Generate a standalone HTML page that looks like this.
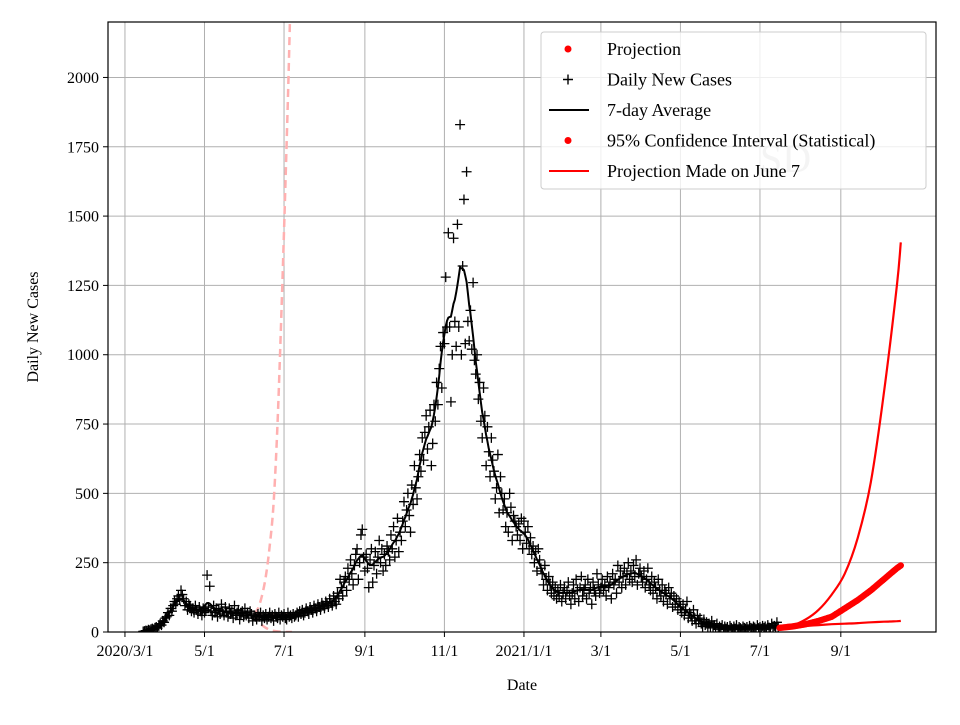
<!DOCTYPE html>
<html><head><meta charset="utf-8"><style>
html,body{margin:0;padding:0;background:#fff;}
svg text{font-family:"Liberation Serif",serif;}
</style></head><body>
<svg id="chart" width="960" height="720" xmlns="http://www.w3.org/2000/svg"></svg>
<script>
// ---- data ----
const dailyStartDay = 14; // days since 2020/3/1
const dailyCases = [
2,3,5,4,8,6,10,12,9,15,18,14,22,30,25,40,35,50,
55,70,60,85,75,95,110,100,120,130,115,150,135,120,
95,110,80,100,90,75,85,70,95,80,65,90,75,60,85,
70,80,205,90,165,75,60,95,70,85,55,80,65,100,75,
60,90,70,55,85,65,75,50,95,60,70,80,45,65,75,55,85,60,70,50,75,65,40,60,55,
45,65,55,70,40,60,50,65,45,55,70,50,60,40,65,55,50,70,45,60,55,65,50,45,70,55,60,50,65,55,
60,70,55,75,65,80,60,70,85,75,65,90,80,70,95,85,75,100,90,80,105,95,85,110,100,90,120,105,95,130,
110,100,140,120,190,160,130,180,200,150,230,190,260,210,170,240,280,300,190,250,350,370,270,220,
280,230,160,260,300,180,240,290,210,270,330,250,300,220,280,240,310,290,260,350,300,380,270,330,410,290,360,330,400,470,
380,440,500,420,360,530,460,600,520,480,560,640,580,700,620,720,780,660,740,800,600,680,820,760,900,820,950,1030,880,1080,
1040,1280,1100,1440,1100,830,1000,1420,1120,1030,1470,1100,1830,1000,1320,1560,1040,1660,1120,1050,1160,1020,1260,980,930,1000,
840,900,760,700,880,780,600,740,650,560,700,620,580,480,520,640,430,560,500,440,480,380,430,360,500,450,330,420,400,380,350,390,330,410,300,
400,360,320,380,300,340,280,310,250,290,220,300,260,230,210,170,240,190,150,200,170,140,180,130,160,120,150,130,170,110,140,
160,120,150,180,130,100,140,170,120,190,150,110,160,200,130,150,170,120,190,140,160,100,180,150,130,210,170,140,160,
190,150,170,130,200,160,180,120,210,170,190,140,240,180,220,160,200,230,170,210,250,190,220,180,240,200,260,170,210,230,
200,180,220,160,190,230,170,150,200,140,180,160,120,190,150,130,170,110,150,140,100,160,120,140,90,130,100,120,80,110,
90,70,100,60,80,110,50,70,60,40,80,50,30,60,40,50,30,20,45,25,35,20,30,15,40,20,25,15,30,10,20,
15,25,10,20,12,18,8,22,15,10,20,12,25,8,18,14,10,20,15,12,18,10,22,15,12,20,16,10,25,14,
18,12,22,15,20,10,25,16,14,30,18,22,15,35,20];
const projDays  = [502,512,522,532,542,552,562,572,582,592,595];
const projMid   = [15,20,28,40,55,85,115,150,190,230,240];
const projUpper = [15,24,45,80,135,210,340,540,860,1250,1405];
const projLower = [15,18,22,25,28,30,32,35,37,39,40];
const oldDays   = [99,102,105,108,111,114,117,120,123,126,128];
const oldUpper  = [65,85,130,200,310,465,750,1150,1600,2100,2500];
const oldMid    = [65,65,65,65,65,65,65,65,65,65,65];
const oldLower  = [65,40,25,15,8,4,2,1,0,0,0];
const yTicks = [0,250,500,750,1000,1250,1500,1750,2000];
const xTickDays = [0,61,122,184,245,306,365,426,487,549];
const xTickLabels = ["2020/3/1","5/1","7/1","9/1","11/1","2021/1/1","3/1","5/1","7/1","9/1"];

// ---- axes ----
const L=108,R=936,T=22,B=632;
const xMin=-13,xMax=622,yMax=2200;
const X=d=>L+(d-xMin)/(xMax-xMin)*(R-L);
const Y=v=>B-v/yMax*(B-T);
const svg=document.getElementById('chart');
const NS='http://www.w3.org/2000/svg';
function mk(tag,attrs,parent){const e=document.createElementNS(NS,tag);for(const k in attrs)e.setAttribute(k,attrs[k]);(parent||svg).appendChild(e);return e;}

const clip=mk('clipPath',{id:'pc'});mk('rect',{x:L,y:T,width:R-L,height:B-T},clip);

// grid
const grid=mk('g',{});


yTicks.forEach(v=>{mk('line',{x1:L,x2:R,y1:Y(v),y2:Y(v),stroke:'#b0b0b0','stroke-width':1},grid);});
xTickDays.forEach(d=>{mk('line',{x1:X(d),x2:X(d),y1:T,y2:B,stroke:'#b0b0b0','stroke-width':1},grid);});

// watermark
const wm=mk('text',{x:760,y:172,'font-size':40,fill:'#c8c8c8'});wm.textContent='SD';



const plot=mk('g',{'clip-path':'url(#pc)'});



// smooth path through points (Catmull-Rom)
function linePath(xs,ys){
  const p=xs.map((d,i)=>[X(d),Y(ys[i])]);
  let s='M'+p[0][0].toFixed(1)+','+p[0][1].toFixed(1);
  for(let i=0;i<p.length-1;i++){
    const p0=p[i-1]||p[i],p1=p[i],p2=p[i+1],p3=p[i+2]||p[i+1];
    const c1=[p1[0]+(p2[0]-p0[0])/6,p1[1]+(p2[1]-p0[1])/6];
    const c2=[p2[0]-(p3[0]-p1[0])/6,p2[1]-(p3[1]-p1[1])/6];
    s+=`C${c1[0].toFixed(1)},${c1[1].toFixed(1)} ${c2[0].toFixed(1)},${c2[1].toFixed(1)} ${p2[0].toFixed(1)},${p2[1].toFixed(1)}`;
  }
  return s;
}
[[oldUpper,'old-projection-upper'],[oldMid,'old-projection-mid'],[oldLower,'old-projection-lower']].forEach(([arr,n])=>{
  let d=linePath(oldDays,arr);
  if(n==='old-projection-mid') d='M'+X(99)+','+Y(65)+'L'+X(130)+','+Y(65);
  const p=mk('path',{d:d,fill:'none',stroke:'#ffb0b0','stroke-width':2.5,'stroke-dasharray':'8,5'},plot);
  
  
});

// daily markers
const mg=mk('g',{stroke:'#000','stroke-width':1.3},plot);


dailyCases.forEach((v,i)=>{
  const x=X(dailyStartDay+i),y=Y(v);
  const p=mk('path',{d:`M${x-5},${y}h10M${x},${y-5}v10`},mg);
  
  
});

// 7-day average (smoothed)
function roll(arr){const o=[];for(let i=0;i<arr.length;i++){const a=Math.max(0,i-3),b=Math.min(arr.length-1,i+3);let s=0;for(let j=a;j<=b;j++)s+=arr[j];o.push(s/(b-a+1));}return o;}
const avg=roll(roll(dailyCases));
const ap=mk('path',{d:avg.map((v,i)=>(i?'L':'M')+X(dailyStartDay+i).toFixed(1)+','+Y(v).toFixed(1)).join(''),fill:'none',stroke:'#000','stroke-width':2},plot);



// projections
[[projUpper,'projection-upper-ci'],[projLower,'projection-lower-ci']].forEach(([arr,n])=>{
  const p=mk('path',{d:linePath(projDays,arr),fill:'none',stroke:'#f00','stroke-width':2.2},plot);
  
  
});
const pm=mk('path',{d:linePath(projDays,projMid),fill:'none',stroke:'#f00','stroke-width':5,'stroke-linecap':'round'},plot);


function interp(d){for(let i=1;i<projDays.length;i++){if(d<=projDays[i]){const t=(d-projDays[i-1])/(projDays[i]-projDays[i-1]);return projMid[i-1]+t*(projMid[i]-projMid[i-1]);}}return projMid[projMid.length-1];}
for(let d=projDays[0];d<=projDays[projDays.length-1];d++){
  const c=mk('circle',{cx:X(d),cy:Y(interp(d)),r:3.2,fill:'#f00'},plot);
  
  
}

// frame
mk('rect',{x:L,y:T,width:R-L,height:B-T,fill:'none',stroke:'#000','stroke-width':1.2});

// ticks & labels
yTicks.forEach(v=>{
  mk('line',{x1:L-5,x2:L,y1:Y(v),y2:Y(v),stroke:'#000'});
  const t=mk('text',{x:L-9,y:Y(v)+5.5,'font-size':16,'text-anchor':'end'});t.textContent=v;
  
  
});
xTickDays.forEach((d,i)=>{
  mk('line',{x1:X(d),x2:X(d),y1:B,y2:B+5,stroke:'#000'});
  const t=mk('text',{x:X(d),y:B+24,'font-size':16,'text-anchor':'middle'});t.textContent=xTickLabels[i];
  
  
});
const xt=mk('text',{x:(L+R)/2,y:690,'font-size':16,'text-anchor':'middle'});xt.textContent='Date';


const yt=mk('text',{x:0,y:0,'font-size':16,'text-anchor':'middle',transform:`translate(38,${(T+B)/2}) rotate(-90)`});yt.textContent='Daily New Cases';



// legend
const lg=mk('g',{});


mk('rect',{x:541,y:32,width:385,height:157,rx:3,fill:'rgba(255,255,255,0.8)',stroke:'#ccc'},lg);
const entries=['Projection','Daily New Cases','7-day Average','95% Confidence Interval (Statistical)','Projection Made on June 7'];
entries.forEach((s,i)=>{
  const y=49+i*30.5;
  if(i===0||i===3) mk('circle',{cx:568,cy:y,r:3.5,fill:'#f00'},lg);
  if(i===1) mk('path',{d:`M${563},${y}h10M${568},${y-5}v10`,stroke:'#000','stroke-width':1.4},lg);
  if(i===2) mk('line',{x1:549,x2:589,y1:y,y2:y,stroke:'#000','stroke-width':2},lg);
  if(i===4) mk('line',{x1:549,x2:589,y1:y,y2:y,stroke:'#f00','stroke-width':2},lg);
  const t=mk('text',{x:607,y:y+6,'font-size':18},lg);t.textContent=s;
  
  
});
</script>
</body></html>
